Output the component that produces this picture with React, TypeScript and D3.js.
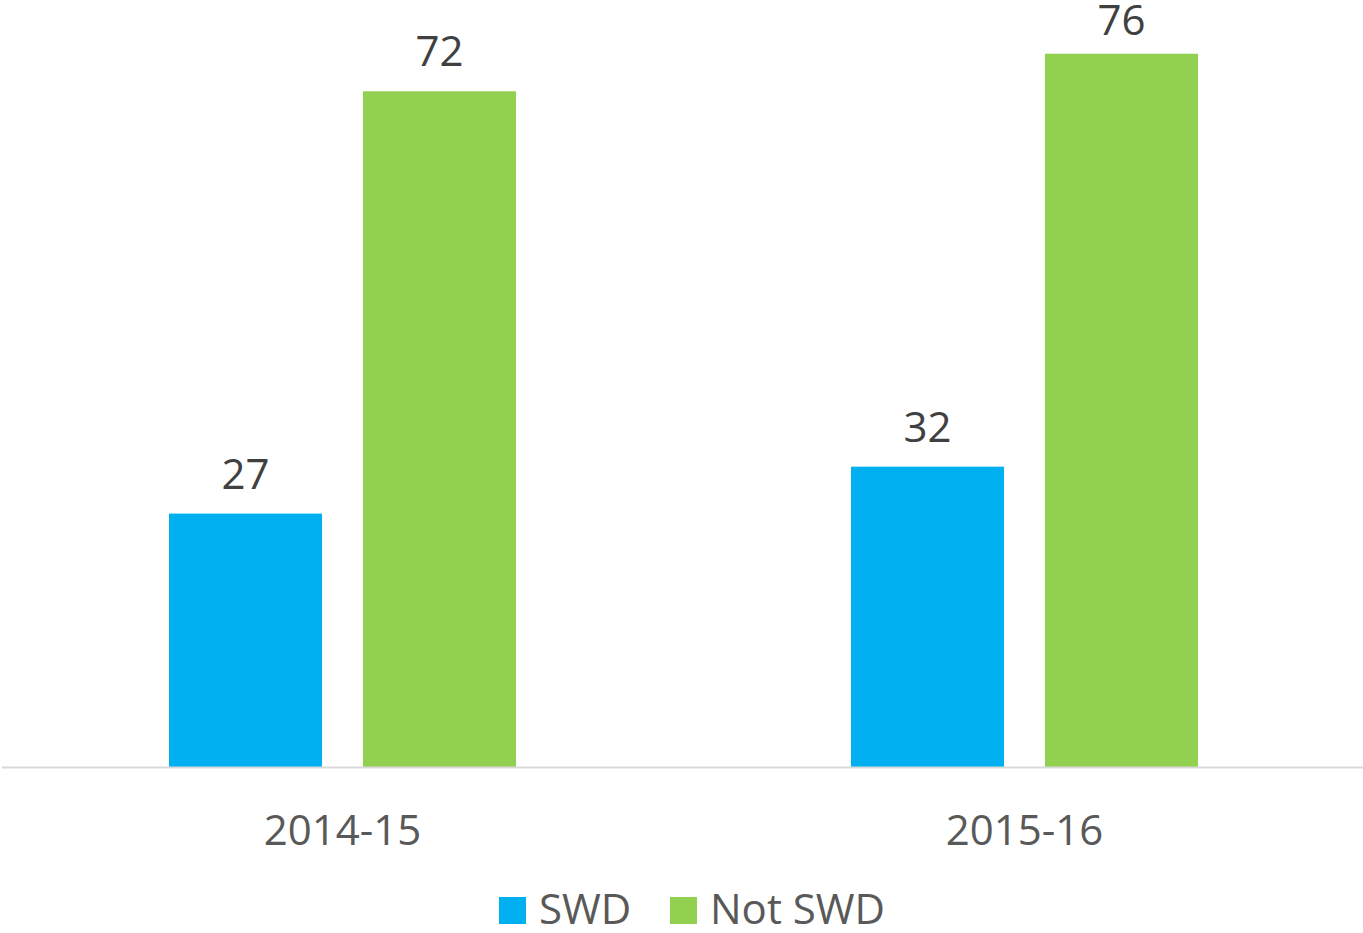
import React, { useEffect, useRef } from 'react';
import * as d3 from 'd3';

const categories = ['2014-15', '2015-16'];
const seriesNames = ['SWD', 'Not SWD'];
const swdValues = [27, 32];
const notSwdValues = [72, 76];
const colors = ['#00B0F0', '#92D050'];

const App: React.FC = () => {
  const ref = useRef<SVGSVGElement>(null);

  useEffect(() => {
    if (!ref.current) return;
    const width = 1363;
    const height = 933;
    const svg = d3.select(ref.current);
    svg.selectAll('*').remove();

    const font = "'Open Sans', 'Segoe UI', sans-serif";
    const left = 2;
    const right = 1363;
    const baseY = 767;

    // Build rows from the small arrays
    const rows = categories.map((c, i) => ({
      cat: c,
      vals: [swdValues[i], notSwdValues[i]],
    }));

    const x0 = d3.scaleBand().domain(categories).range([1.5, 1365.5]).paddingInner(0).paddingOuter(0);
    const x1 = d3.scaleBand().domain(seriesNames).range([0, 347]).paddingInner(0.211).paddingOuter(0);
    const groupOffset = (x0.bandwidth() - 347) / 2;
    const y = d3.scaleLinear().domain([0, 80]).range([baseY, 16.2]);

    const groups = svg.append('g')
      .selectAll('g')
      .data(rows)
      .join('g')
      .attr('transform', d => `translate(${(x0(d.cat) ?? 0) + groupOffset},0)`);

    groups.selectAll('rect')
      .data(d => d.vals.map((v, i) => ({ v, name: seriesNames[i], i })))
      .join('rect')
      .attr('x', d => x1(d.name) ?? 0)
      .attr('y', d => y(d.v))
      .attr('width', x1.bandwidth())
      .attr('height', d => baseY - y(d.v))
      .attr('fill', d => colors[d.i]);

    // value labels, kept inside the top edge
    groups.selectAll('text')
      .data(d => d.vals.map((v, i) => ({ v, name: seriesNames[i] })))
      .join('text')
      .attr('x', d => (x1(d.name) ?? 0) + x1.bandwidth() / 2)
      .attr('y', d => Math.max(y(d.v) - 25, 35))
      .attr('text-anchor', 'middle')
      .attr('font-family', font)
      .attr('font-size', 42)
      .attr('fill', '#404040')
      .text(d => d.v);

    // baseline
    svg.append('line')
      .attr('x1', left).attr('x2', right)
      .attr('y1', baseY + 0.5).attr('y2', baseY + 0.5)
      .attr('stroke', '#d9d9d9').attr('stroke-width', 2);

    // category labels
    svg.append('g')
      .selectAll('text')
      .data(categories)
      .join('text')
      .attr('x', d => (x0(d) ?? 0) + x0.bandwidth() / 2)
      .attr('y', 845)
      .attr('text-anchor', 'middle')
      .attr('font-family', font)
      .attr('font-size', 42)
      .attr('fill', '#595959')
      .text(d => d);

    // legend
    const legendX = [499, 670];
    const legend = svg.append('g')
      .selectAll('g')
      .data(seriesNames)
      .join('g')
      .attr('transform', (d, i) => `translate(${legendX[i]},897)`);
    legend.append('rect')
      .attr('width', 27).attr('height', 27)
      .attr('fill', (d, i) => colors[i]);
    legend.append('text')
      .attr('x', 40).attr('y', 27)
      .attr('font-family', font)
      .attr('font-size', 42)
      .attr('fill', '#595959')
      .text(d => d);

    svg.attr('width', width).attr('height', height);
  }, []);

  return (
    <svg ref={ref} width={1363} height={933}
      style={{ position: 'absolute', left: 0, top: 0, display: 'block' }} />
  );
};

export default App;
